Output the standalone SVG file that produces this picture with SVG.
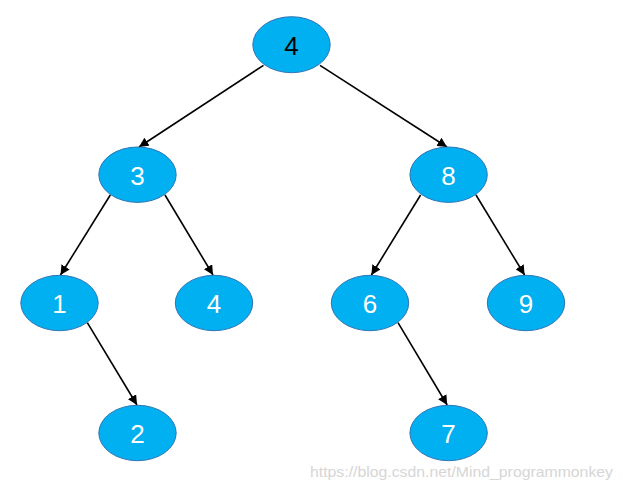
<svg xmlns="http://www.w3.org/2000/svg" width="623" height="491" viewBox="0 0 623 491">
<style>
.node ellipse{fill:#00B0F0;stroke:#2E75B6;stroke-width:1}
.node text{font-family:"Liberation Sans",Arial,sans-serif;font-size:26px;fill:#FFFFFF;text-anchor:middle;dominant-baseline:central}
.node text.dark{fill:#000000}
.edges line{stroke:#000;stroke-width:1.6;marker-end:url(#arr)}
.wm{font-family:"Liberation Sans",Arial,sans-serif;font-size:15px;fill:#D6D6D6}
</style>
<defs>
<marker id="arr" viewBox="0 0 10 10" refX="10" refY="5" markerWidth="6" markerHeight="6" orient="auto" markerUnits="strokeWidth">
<path d="M0,0 L10,5 L0,10 z" fill="#000"/>
</marker>
</defs>
<rect width="623" height="491" fill="#FFFFFF"/>
<g class="edges">
<line x1="263.5" y1="65.3" x2="139" y2="147"/>
<line x1="320" y1="65.3" x2="447" y2="147"/>
<line x1="110.3" y1="195" x2="60.5" y2="275"/>
<line x1="165" y1="195" x2="213" y2="275"/>
<line x1="420.6" y1="195" x2="371.4" y2="275"/>
<line x1="476" y1="195" x2="524.6" y2="275"/>
<line x1="87.3" y1="322.7" x2="137" y2="405"/>
<line x1="398" y1="322.7" x2="447.2" y2="405"/>
</g>
<g id="n-root" class="node"><ellipse cx="291.5" cy="44.7" rx="38.7" ry="28"/><text class="dark" x="291.5" y="45.5">4</text></g>
<g id="n-3" class="node"><ellipse cx="137.5" cy="174.7" rx="38.7" ry="27.7"/><text x="137.5" y="175.5">3</text></g>
<g id="n-8" class="node"><ellipse cx="448.6" cy="174.7" rx="38.7" ry="27.7"/><text x="448.6" y="175.5">8</text></g>
<g id="n-1" class="node"><ellipse cx="59.5" cy="303" rx="38.7" ry="27.7"/><text x="59.5" y="303.8">1</text></g>
<g id="n-4" class="node"><ellipse cx="214" cy="303" rx="38.7" ry="27.7"/><text x="214" y="303.8">4</text></g>
<g id="n-6" class="node"><ellipse cx="370" cy="303" rx="38.7" ry="27.7"/><text x="370" y="303.8">6</text></g>
<g id="n-9" class="node"><ellipse cx="526" cy="303" rx="38.7" ry="27.7"/><text x="526" y="303.8">9</text></g>
<g id="n-2" class="node"><ellipse cx="137.5" cy="433" rx="38.7" ry="27.7"/><text x="137.5" y="433.8">2</text></g>
<g id="n-7" class="node"><ellipse cx="448.6" cy="433" rx="38.7" ry="27.7"/><text x="448.6" y="433.8">7</text></g>
<text class="wm" x="310" y="477" textLength="303" lengthAdjust="spacingAndGlyphs">https://blog.csdn.net/Mind_programmonkey</text>
</svg>
